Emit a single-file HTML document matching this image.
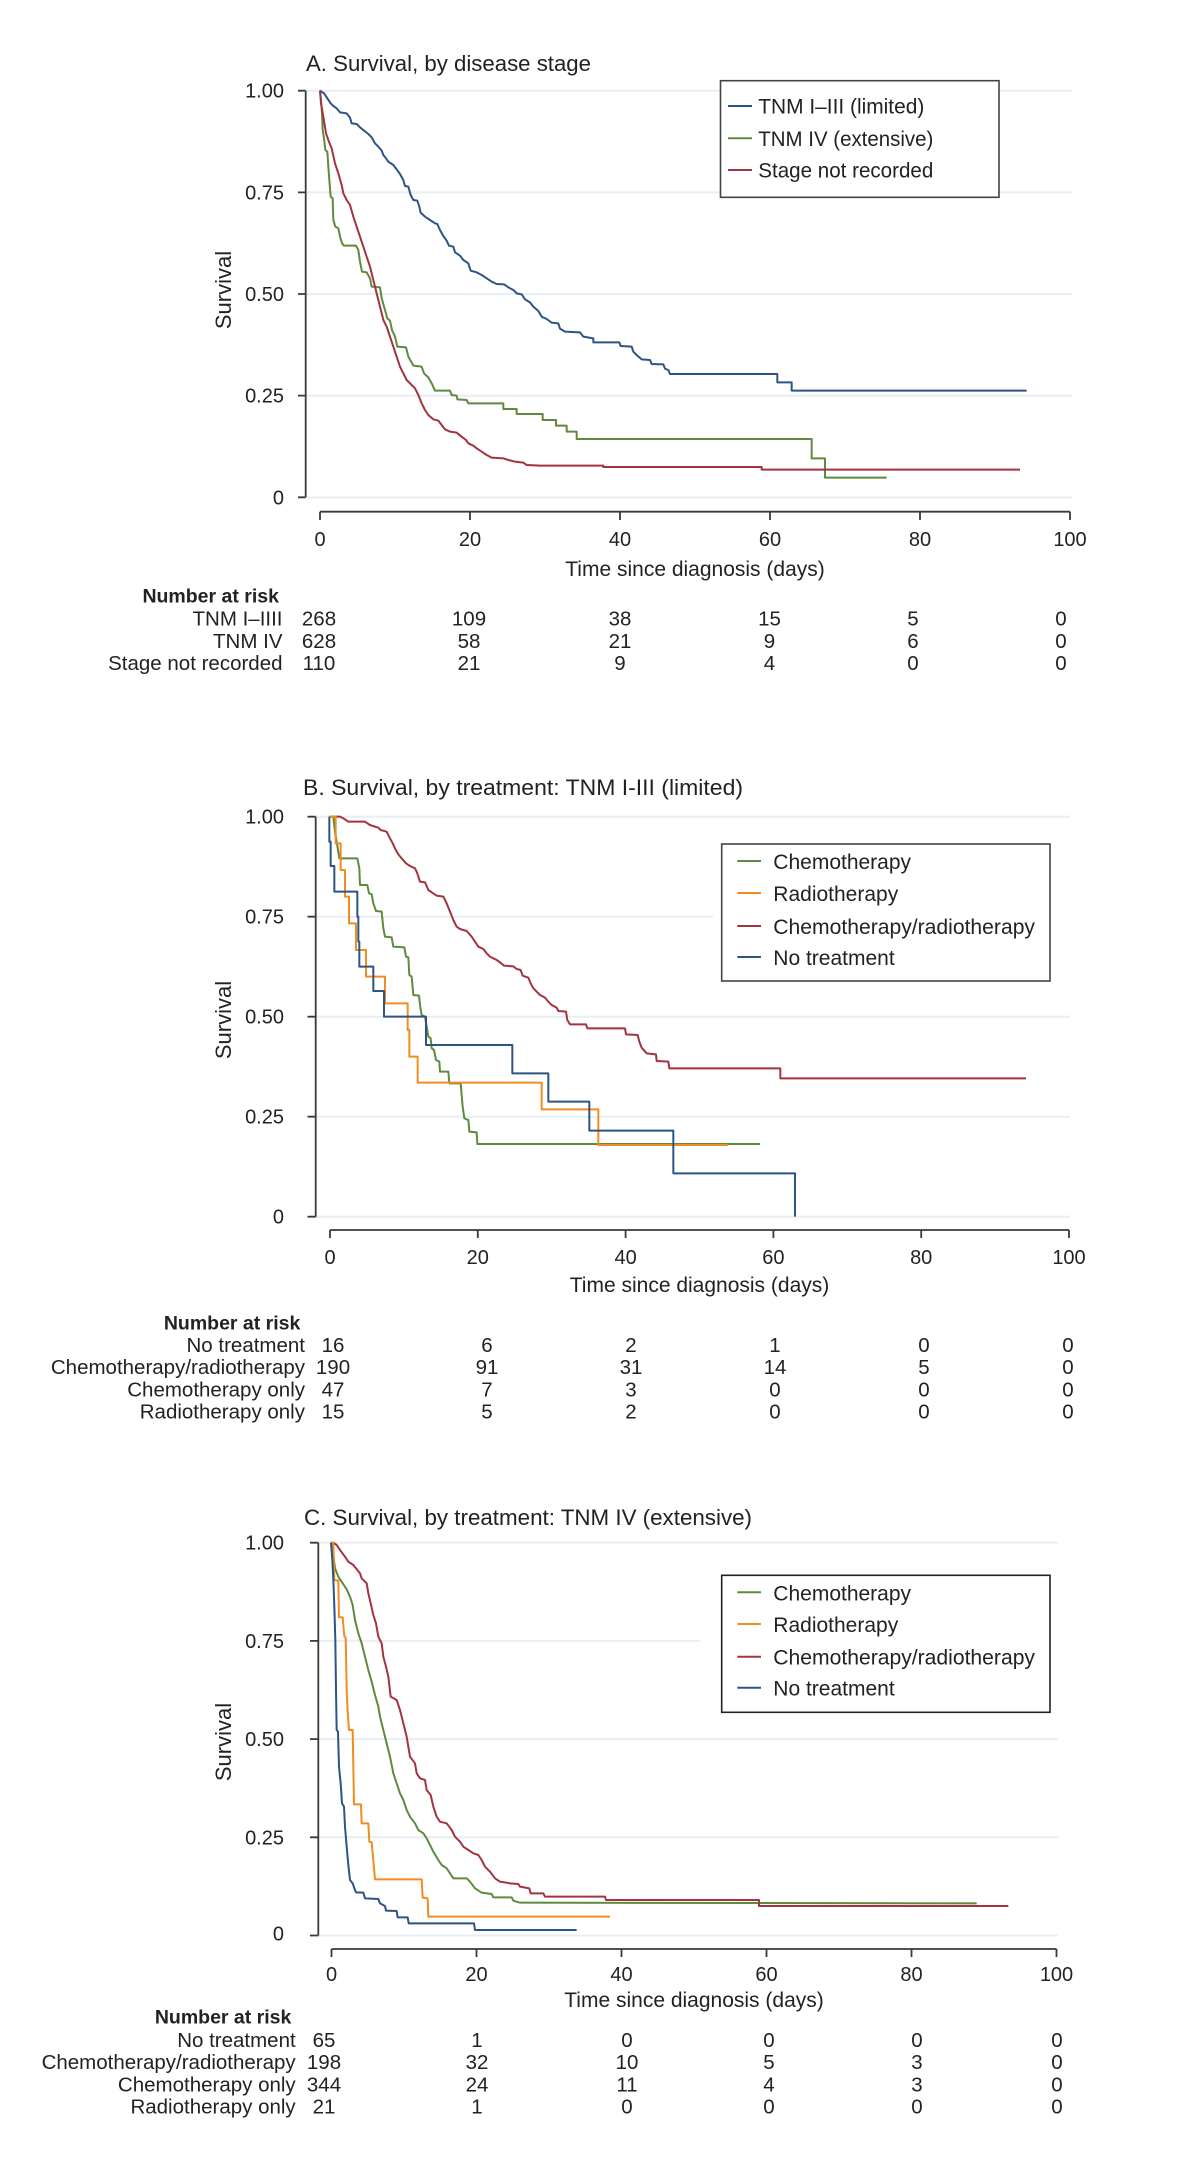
<!DOCTYPE html>
<html>
<head>
<meta charset="utf-8">
<style>
  html,body{margin:0;padding:0;background:#fff;}
  svg{display:block;}
  text{font-family:"Liberation Sans",Arial,sans-serif;fill:#222;}
  .t{font-size:22.5px;}
  .tick{font-size:20px;}
  .ax{font-size:21px;}
  .leg{font-size:21px;}
  .tb{font-size:20.5px;}
  .tbh{font-size:19.5px;font-weight:bold;}
  .grid{stroke:#e7eef4;stroke-width:2;}
  .axis{stroke:#3a3a3a;stroke-width:1.8;fill:none;}
  .c{fill:none;stroke-width:2;vector-effect:non-scaling-stroke;stroke-linejoin:round;}
  .blue{stroke:#2e5385;}
  .green{stroke:#5e8a3f;}
  .red{stroke:#a2333f;}
  .orange{stroke:#f28c1e;}
</style>
</head>
<body>
<svg width="1200" height="2181" viewBox="0 0 1200 2181" xmlns="http://www.w3.org/2000/svg">
<rect x="0" y="0" width="1200" height="2181" fill="#fff"/>

<!-- ===================== PANEL A ===================== -->
<text class="t" x="306" y="71" textLength="285" lengthAdjust="spacingAndGlyphs">A. Survival, by disease stage</text>

<!-- gridlines -->
<line class="grid" x1="306" y1="90.7" x2="1072" y2="90.7"/>
<line class="grid" x1="306" y1="192.35" x2="1072" y2="192.35"/>
<line class="grid" x1="306" y1="294" x2="1072" y2="294"/>
<line class="grid" x1="306" y1="395.65" x2="1072" y2="395.65"/>
<line class="grid" x1="306" y1="497.3" x2="1072" y2="497.3"/>

<!-- y axis -->
<path class="axis" d="M305.7,90.7 V497.3 M298,90.7 H305.7 M298,192.35 H305.7 M298,294 H305.7 M298,395.65 H305.7 M298,497.3 H305.7"/>
<g class="tick" text-anchor="end">
<text x="284" y="97.7">1.00</text>
<text x="284" y="199.3">0.75</text>
<text x="284" y="301">0.50</text>
<text x="284" y="402.6">0.25</text>
<text x="284" y="504.3">0</text>
</g>
<text class="ax" text-anchor="middle" transform="translate(231,290) rotate(-90)" style="font-size:22px">Survival</text>

<!-- x axis -->
<path class="axis" d="M320,511.7 H1070 M320,511.7 V520 M470,511.7 V520 M620,511.7 V520 M770,511.7 V520 M920,511.7 V520 M1070,511.7 V520"/>
<g class="tick" text-anchor="middle">
<text x="320" y="546">0</text>
<text x="470" y="546">20</text>
<text x="620" y="546">40</text>
<text x="770" y="546">60</text>
<text x="920" y="546">80</text>
<text x="1070" y="546">100</text>
</g>
<text class="ax" x="695" y="576" text-anchor="middle">Time since diagnosis (days)</text>

<!-- curves A -->
<g transform="translate(300,80) scale(0.3333333)">
<polyline class="c green" points="60,32 63,60 66,100 68,150 72,175 76,210 82,215 85,260 88,300 92,350 98,355 100,420 106,440 115,445 120,470 126,490 132,497 168,497 175,510 180,545 186,575 200,577 210,595 215,620 240,622 245,655 255,690 262,715 270,722 276,750 285,770 292,800 318,802 325,830 340,857 365,860 372,880 385,892 395,910 405,932 450,932 455,945 470,947 472,958 500,960 505,970 610,970 610,987 650,987 650,1002 728,1002 728,1020 768,1020 768,1037 800,1037 800,1055 830,1055 830,1077 1535,1077 1535,1135 1575,1135 1575,1193 1760,1193"/>
<polyline class="c red" points="60,32 63,70 70,110 78,160 85,180 95,205 105,250 115,280 125,315 130,340 140,360 150,375 160,410 170,440 180,470 190,500 200,530 210,560 220,600 230,640 240,680 250,720 260,740 270,770 280,800 290,830 300,860 310,880 320,900 335,915 345,925 355,945 365,970 375,990 385,1005 400,1018 415,1022 425,1035 435,1048 450,1055 470,1058 485,1070 498,1080 505,1090 520,1097 530,1105 545,1115 560,1125 575,1133 610,1135 625,1140 645,1145 670,1148 680,1155 720,1157 910,1157 910,1161 1385,1161 1385,1169 2160,1169"/>
<polyline class="c blue" points="60,32 72,40 82,55 92,70 100,78 110,85 120,97 140,100 150,113 155,130 170,132 180,142 190,150 205,162 215,172 225,190 235,200 245,212 250,225 258,235 265,245 280,255 290,268 300,282 310,300 315,318 325,320 332,345 340,360 352,362 358,380 362,398 375,410 390,420 405,430 412,432 420,450 430,468 440,482 447,497 460,500 465,517 480,527 490,540 505,550 512,572 530,577 545,585 560,595 575,605 590,612 612,613 625,622 640,630 650,640 665,643 675,658 690,667 700,680 715,693 725,710 740,717 755,728 775,730 780,746 795,755 840,757 850,770 880,775 880,787 958,787 962,798 995,800 1000,815 1010,825 1025,838 1050,840 1055,852 1090,853 1095,866 1105,870 1110,882 1432,882 1432,907 1475,907 1475,932 2180,932"/>
</g>

<!-- legend A -->
<rect x="720.5" y="80.7" width="278.5" height="116.6" fill="#fff" stroke="#444" stroke-width="1.6"/>
<line x1="728" y1="106" x2="752" y2="106" class="blue" stroke-width="2"/>
<line x1="728" y1="138.3" x2="752" y2="138.3" class="green" stroke-width="2"/>
<line x1="728" y1="170" x2="752" y2="170" class="red" stroke-width="2"/>
<g class="leg">
<text x="758.3" y="113.6" textLength="166" lengthAdjust="spacingAndGlyphs">TNM I–III (limited)</text>
<text x="758.3" y="145.9" textLength="175" lengthAdjust="spacingAndGlyphs">TNM IV (extensive)</text>
<text x="758.3" y="177.6" textLength="175" lengthAdjust="spacingAndGlyphs">Stage not recorded</text>
</g>

<!-- risk table A -->
<text class="tbh" x="279" y="602.5" text-anchor="end">Number at risk</text>
<g class="tb" text-anchor="end">
<text x="282.5" y="625.5">TNM I–IIII</text>
<text x="282.5" y="648">TNM IV</text>
<text x="282.5" y="670">Stage not recorded</text>
</g>
<g class="tb" text-anchor="middle">
<text x="319" y="625.5">268</text><text x="469" y="625.5">109</text><text x="620" y="625.5">38</text><text x="769.5" y="625.5">15</text><text x="913" y="625.5">5</text><text x="1061" y="625.5">0</text>
<text x="319" y="648">628</text><text x="469" y="648">58</text><text x="620" y="648">21</text><text x="769.5" y="648">9</text><text x="913" y="648">6</text><text x="1061" y="648">0</text>
<text x="319" y="670">110</text><text x="469" y="670">21</text><text x="620" y="670">9</text><text x="769.5" y="670">4</text><text x="913" y="670">0</text><text x="1061" y="670">0</text>
</g>

<!-- ===================== PANEL B ===================== -->
<text class="t" x="303" y="795" textLength="440" lengthAdjust="spacingAndGlyphs">B. Survival, by treatment: TNM I-III (limited)</text>

<line class="grid" x1="316" y1="816.7" x2="1070" y2="816.7"/>
<line class="grid" x1="316" y1="916.7" x2="713" y2="916.7"/>
<line class="grid" x1="316" y1="1016.7" x2="1070" y2="1016.7"/>
<line class="grid" x1="316" y1="1116.7" x2="1070" y2="1116.7"/>
<line class="grid" x1="316" y1="1216.7" x2="1070" y2="1216.7"/>

<path class="axis" d="M315.7,816.7 V1216.7 M307.5,816.7 H315.7 M307.5,916.7 H315.7 M307.5,1016.7 H315.7 M307.5,1116.7 H315.7 M307.5,1216.7 H315.7"/>
<g class="tick" text-anchor="end">
<text x="284" y="823.7">1.00</text>
<text x="284" y="923.7">0.75</text>
<text x="284" y="1023.7">0.50</text>
<text x="284" y="1123.7">0.25</text>
<text x="284" y="1223.7">0</text>
</g>
<text class="ax" text-anchor="middle" transform="translate(231,1020) rotate(-90)" style="font-size:22px">Survival</text>

<path class="axis" d="M330,1230 H1069 M330,1230 V1238 M477.8,1230 V1238 M625.6,1230 V1238 M773.4,1230 V1238 M921.2,1230 V1238 M1069,1230 V1238"/>
<g class="tick" text-anchor="middle">
<text x="330" y="1264">0</text>
<text x="477.8" y="1264">20</text>
<text x="625.6" y="1264">40</text>
<text x="773.4" y="1264">60</text>
<text x="921.2" y="1264">80</text>
<text x="1069" y="1264">100</text>
</g>
<text class="ax" x="699.5" y="1292" text-anchor="middle">Time since diagnosis (days)</text>

<g transform="translate(300,805) scale(0.3333333)">
<polyline class="c red" points="95,35 120,35 130,40 145,50 195,50 210,60 235,68 242,75 260,80 270,100 278,115 285,130 295,148 305,160 318,175 330,183 345,190 352,205 360,230 375,232 385,255 395,262 410,272 430,275 440,295 450,320 460,345 470,365 480,372 500,378 515,395 525,410 535,425 550,432 560,445 570,455 590,465 600,472 612,482 640,484 650,492 662,495 668,512 685,518 692,535 700,550 710,560 720,570 735,578 745,590 755,600 770,608 775,618 798,620 802,645 810,658 858,658 862,670 975,670 978,688 1013,690 1018,710 1025,728 1040,745 1068,748 1070,768 1105,770 1108,790 1441,790 1441,820 2178,820"/>
<polyline class="c green" points="88,35 100,35 105,80 110,110 118,160 172,160 178,190 180,240 202,240 207,265 215,268 220,295 228,318 245,320 250,370 255,395 275,397 280,425 313,427 318,455 325,457 328,510 335,515 340,570 357,572 360,600 365,630 375,635 380,665 385,695 392,700 395,730 402,735 408,765 418,770 420,800 445,800 448,835 482,835 485,870 488,905 493,940 505,945 508,980 530,982 532,1017 1380,1017"/>
<polyline class="c orange" points="88,35 107,35 107,115 122,115 122,195 135,195 135,275 147,275 147,355 168,355 168,435 198,435 198,515 255,515 255,595 323,595 323,675 328,675 328,755 353,755 353,833 725,833 725,913 895,913 895,1020 1285,1020"/>
<polyline class="c blue" points="88,35 88,110 92,110 92,183 103,183 103,260 172,260 172,335 175,335 175,410 178,410 178,485 220,485 220,558 252,558 252,635 378,635 378,720 637,720 637,805 745,805 745,890 868,890 868,977 1120,977 1120,1105 1485,1105 1485,1235"/>
</g>

<rect x="721.7" y="844" width="328.3" height="137" fill="#fff" stroke="#444" stroke-width="1.6"/>
<line x1="737.3" y1="861" x2="761" y2="861" class="green" stroke-width="2"/>
<line x1="737.3" y1="893" x2="761" y2="893" class="orange" stroke-width="2"/>
<line x1="737.3" y1="926" x2="761" y2="926" class="red" stroke-width="2"/>
<line x1="737.3" y1="957" x2="761" y2="957" class="blue" stroke-width="2"/>
<g class="leg">
<text x="773.3" y="869">Chemotherapy</text>
<text x="773.3" y="901">Radiotherapy</text>
<text x="773.3" y="934" textLength="261.7" lengthAdjust="spacingAndGlyphs">Chemotherapy/radiotherapy</text>
<text x="773.3" y="965">No treatment</text>
</g>

<text class="tbh" x="300.4" y="1329.5" text-anchor="end">Number at risk</text>
<g class="tb" text-anchor="end">
<text x="305" y="1351.8">No treatment</text>
<text x="305" y="1374.2">Chemotherapy/radiotherapy</text>
<text x="305" y="1396.5">Chemotherapy only</text>
<text x="305" y="1418.5">Radiotherapy only</text>
</g>
<g class="tb" text-anchor="middle">
<text x="333" y="1351.8">16</text><text x="487" y="1351.8">6</text><text x="631" y="1351.8">2</text><text x="775" y="1351.8">1</text><text x="924" y="1351.8">0</text><text x="1068" y="1351.8">0</text>
<text x="333" y="1374.2">190</text><text x="487" y="1374.2">91</text><text x="631" y="1374.2">31</text><text x="775" y="1374.2">14</text><text x="924" y="1374.2">5</text><text x="1068" y="1374.2">0</text>
<text x="333" y="1396.5">47</text><text x="487" y="1396.5">7</text><text x="631" y="1396.5">3</text><text x="775" y="1396.5">0</text><text x="924" y="1396.5">0</text><text x="1068" y="1396.5">0</text>
<text x="333" y="1418.5">15</text><text x="487" y="1418.5">5</text><text x="631" y="1418.5">2</text><text x="775" y="1418.5">0</text><text x="924" y="1418.5">0</text><text x="1068" y="1418.5">0</text>
</g>

<!-- ===================== PANEL C ===================== -->
<text class="t" x="304" y="1525" textLength="448" lengthAdjust="spacingAndGlyphs">C. Survival, by treatment: TNM IV (extensive)</text>

<line class="grid" x1="318" y1="1542.7" x2="1058" y2="1542.7"/>
<line class="grid" x1="318" y1="1640.9" x2="700" y2="1640.9"/>
<line class="grid" x1="318" y1="1739.1" x2="1058" y2="1739.1"/>
<line class="grid" x1="318" y1="1837.3" x2="1058" y2="1837.3"/>
<line class="grid" x1="318" y1="1935.5" x2="1058" y2="1935.5"/>

<path class="axis" d="M318.3,1542.7 V1935.5 M310,1542.7 H318.3 M310,1640.9 H318.3 M310,1739.1 H318.3 M310,1837.3 H318.3 M310,1935.5 H318.3"/>
<g class="tick" text-anchor="end">
<text x="284" y="1549.7">1.00</text>
<text x="284" y="1647.9">0.75</text>
<text x="284" y="1746.1">0.50</text>
<text x="284" y="1844.3">0.25</text>
<text x="284" y="1940.5">0</text>
</g>
<text class="ax" text-anchor="middle" transform="translate(231,1742) rotate(-90)" style="font-size:22px">Survival</text>

<path class="axis" d="M331.5,1949 H1056.5 M331.5,1949 V1957 M476.5,1949 V1957 M621.5,1949 V1957 M766.5,1949 V1957 M911.5,1949 V1957 M1056.5,1949 V1957"/>
<g class="tick" text-anchor="middle">
<text x="331.5" y="1981">0</text>
<text x="476.5" y="1981">20</text>
<text x="621.5" y="1981">40</text>
<text x="766.5" y="1981">60</text>
<text x="911.5" y="1981">80</text>
<text x="1056.5" y="1981">100</text>
</g>
<text class="ax" x="694" y="2007" text-anchor="middle">Time since diagnosis (days)</text>

<g transform="translate(300,1540) scale(0.3333333)">
<polyline class="c green" points="93,8 98,30 105,85 115,110 125,125 140,148 150,170 158,195 165,240 175,280 185,310 195,350 205,390 215,425 225,465 235,500 240,530 250,570 260,610 270,650 280,700 290,730 300,760 310,780 320,810 330,830 345,850 355,870 370,880 380,895 390,915 400,935 415,960 425,975 440,985 450,1000 460,1015 500,1015 510,1025 525,1045 545,1058 575,1062 580,1072 635,1072 640,1082 660,1088 2030,1090"/>
<polyline class="c red" points="93,8 100,8 110,15 120,30 135,50 145,65 160,75 172,90 180,100 185,115 200,130 205,160 212,190 220,225 228,250 235,290 245,310 250,350 258,380 265,410 272,470 290,480 300,510 310,550 320,590 325,620 330,650 345,670 350,700 360,715 375,720 380,750 392,765 400,800 410,830 420,845 440,850 455,870 465,890 480,905 490,920 505,930 520,940 535,945 545,960 555,980 570,995 585,1015 600,1025 630,1030 655,1032 660,1040 688,1045 692,1060 730,1060 735,1070 915,1070 918,1080 1377,1080 1377,1098 2125,1098"/>
<polyline class="c orange" points="93,8 100,8 103,120 115,122 117,232 128,232 133,290 137,292 140,450 143,515 147,570 158,570 162,793 183,793 185,850 205,850 208,905 215,907 220,962 225,1018 365,1018 368,1073 383,1075 385,1130 930,1130"/>
<polyline class="c blue" points="93,8 97,60 100,120 103,200 106,300 108,450 110,570 114,575 117,680 122,730 126,790 132,800 135,860 140,920 145,975 150,1020 158,1030 165,1050 168,1057 190,1058 195,1075 235,1077 240,1090 255,1098 258,1112 290,1113 293,1132 323,1132 326,1150 522,1150 525,1170 830,1170"/>
</g>

<rect x="721.7" y="1575.3" width="328.3" height="137" fill="#fff" stroke="#222" stroke-width="1.6"/>
<line x1="737.3" y1="1592.3" x2="761" y2="1592.3" class="green" stroke-width="2"/>
<line x1="737.3" y1="1624" x2="761" y2="1624" class="orange" stroke-width="2"/>
<line x1="737.3" y1="1656.7" x2="761" y2="1656.7" class="red" stroke-width="2"/>
<line x1="737.3" y1="1687.7" x2="761" y2="1687.7" class="blue" stroke-width="2"/>
<g class="leg">
<text x="773.3" y="1600.3">Chemotherapy</text>
<text x="773.3" y="1632">Radiotherapy</text>
<text x="773.3" y="1664.7" textLength="261.7" lengthAdjust="spacingAndGlyphs">Chemotherapy/radiotherapy</text>
<text x="773.3" y="1695.7">No treatment</text>
</g>

<text class="tbh" x="291.4" y="2023.5" text-anchor="end">Number at risk</text>
<g class="tb" text-anchor="end">
<text x="295.7" y="2046.8">No treatment</text>
<text x="295.7" y="2069.2">Chemotherapy/radiotherapy</text>
<text x="295.7" y="2091.5">Chemotherapy only</text>
<text x="295.7" y="2113.5">Radiotherapy only</text>
</g>
<g class="tb" text-anchor="middle">
<text x="324" y="2046.8">65</text><text x="477" y="2046.8">1</text><text x="627" y="2046.8">0</text><text x="769" y="2046.8">0</text><text x="917" y="2046.8">0</text><text x="1057" y="2046.8">0</text>
<text x="324" y="2069.2">198</text><text x="477" y="2069.2">32</text><text x="627" y="2069.2">10</text><text x="769" y="2069.2">5</text><text x="917" y="2069.2">3</text><text x="1057" y="2069.2">0</text>
<text x="324" y="2091.5">344</text><text x="477" y="2091.5">24</text><text x="627" y="2091.5">11</text><text x="769" y="2091.5">4</text><text x="917" y="2091.5">3</text><text x="1057" y="2091.5">0</text>
<text x="324" y="2113.5">21</text><text x="477" y="2113.5">1</text><text x="627" y="2113.5">0</text><text x="769" y="2113.5">0</text><text x="917" y="2113.5">0</text><text x="1057" y="2113.5">0</text>
</g>

</svg>
</body>
</html>
